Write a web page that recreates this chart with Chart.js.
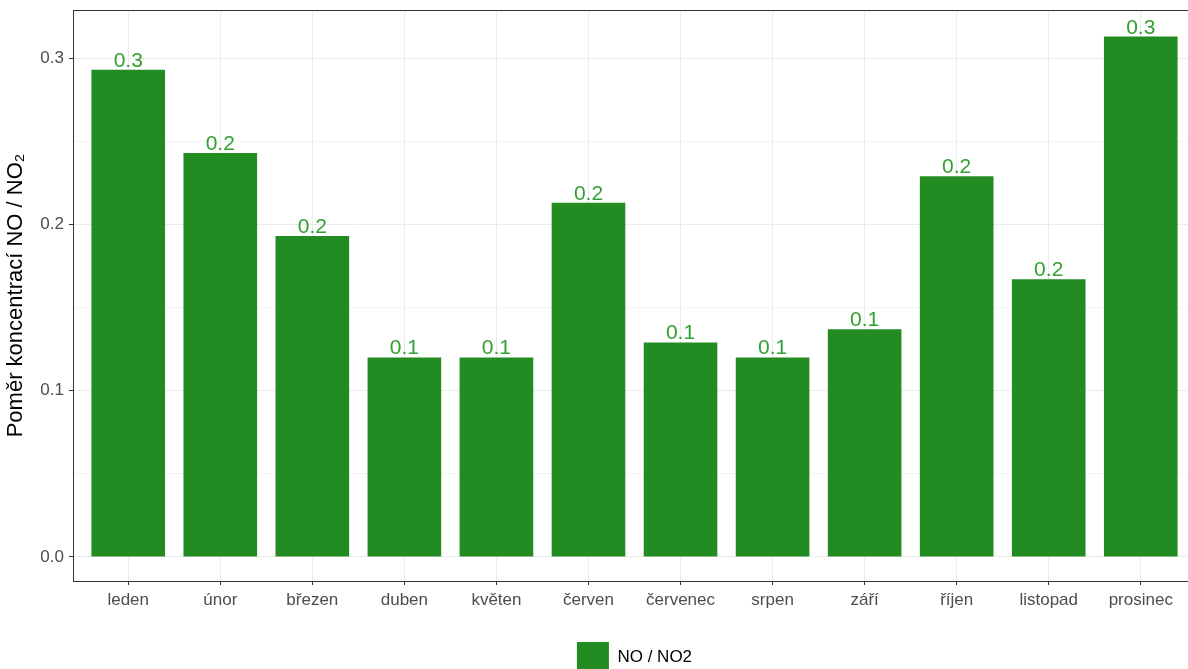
<!DOCTYPE html>
<html>
<head>
<meta charset="utf-8">
<script src="https://cdn.jsdelivr.net/npm/chart.js@4.4.1/dist/chart.umd.min.js"></script>
<style>
  html, body { margin: 0; padding: 0; background: #fff; overflow: hidden; }
  #wrap { width: 1200px; height: 683px; }
</style>
</head>
<body>
<div id="wrap"><canvas id="graf" width="1200" height="683"></canvas></div>
<script>
// mesice a pomer NO / NO2
const mesice = ['leden', 'únor', 'březen', 'duben', 'květen', 'červen',
    'červenec', 'srpen', 'září', 'říjen', 'listopad', 'prosinec'];
const pomer = [0.293, 0.243, 0.193, 0.120, 0.120, 0.213,
    0.129, 0.120, 0.137, 0.229, 0.167, 0.313];
const yTicks = [0, 0.05, 0.1, 0.15, 0.2, 0.25, 0.3];

const zelena = '#228B22';
const mrizka = '#EBEBEB';
const osa = '#333333';
const pismo = '"Liberation Sans", Arial, sans-serif';

// popisky nad sloupci
const popisky = {
    id: 'popisky',
    afterDatasetsDraw(chart) {
        const ctx = chart.ctx;
        const meta = chart.getDatasetMeta(0);
        ctx.save();
        ctx.font = '21px ' + pismo;
        ctx.fillStyle = '#33a033';
        ctx.textAlign = 'center';
        ctx.textBaseline = 'alphabetic';
        meta.data.forEach((bar, i) => {
            ctx.fillText(pomer[i].toFixed(1), bar.x, bar.y - 3);
        });
        ctx.restore();
    }
};

// ramecek panelu
const ramecek = {
    id: 'ramecek',
    afterDraw(chart) {
        const a = chart.chartArea;
        const ctx = chart.ctx;
        ctx.save();
        ctx.strokeStyle = osa;
        ctx.lineWidth = 1;
        ctx.strokeRect(a.left + 0.5, a.top + 0.5, a.right - a.left, a.bottom - a.top);
        ctx.restore();
    }
};

const isMajor = (v) => Math.abs(Math.round(v * 10) - v * 10) < 1e-6;

new Chart(document.getElementById('graf'), {
    type: 'bar',
    data: {
        datasets: [{
            label: 'NO / NO2',
            data: pomer.map((v, i) => ({ x: i + 1, y: v })),
            backgroundColor: zelena,
            borderWidth: 0,
            barPercentage: 0.8,
            categoryPercentage: 1.0
        }]
    },
    options: {
        responsive: false,
        animation: false,
        layout: { padding: { left: 0, top: 10, right: 4, bottom: 0 } },
        scales: {
            x: {
                type: 'linear',
                offset: false,
                min: 0.4,
                max: 12.6,
                afterBuildTicks(scale) {
                    scale.ticks = mesice.map((m, i) => ({ value: i + 1 }));
                },
                afterFit(scale) { scale.height = 51; },
                grid: { offset: false, color: mrizka, lineWidth: 1, tickLength: 4, tickColor: osa },
                border: { color: osa, width: 1 },
                ticks: {
                    autoSkip: false,
                    maxRotation: 0,
                    padding: 5,
                    color: '#4D4D4D',
                    font: { family: pismo, size: 17 },
                    callback: (v) => mesice[Math.round(v) - 1]
                }
            },
            y: {
                min: -0.0145,
                max: 0.329,
                afterBuildTicks(scale) {
                    scale.ticks = yTicks.map(v => ({ value: v }));
                },
                afterFit(scale) {
                    scale.width = 73;
                    scale.paddingTop = 0;
                    scale.paddingBottom = 0;
                },
                grid: {
                    color: mrizka,
                    lineWidth: (c) => isMajor(c.tick.value) ? 1 : 0.6,
                    tickLength: 4,
                    tickColor: (c) => isMajor(c.tick.value) ? osa : 'rgba(0,0,0,0)'
                },
                border: { color: osa, width: 1 },
                ticks: {
                    padding: 5,
                    color: '#4D4D4D',
                    font: { family: pismo, size: 17 },
                    callback: (v) => isMajor(v) ? v.toFixed(1) : ''
                },
                title: {
                    display: true,
                    text: 'Poměr koncentrací NO / NO₂',
                    color: '#000',
                    padding: { top: 3, bottom: 0 },
                    font: { family: pismo, size: 22 }
                }
            }
        },
        plugins: {
            legend: {
                position: 'bottom',
                fullSize: false,
                labels: {
                    boxWidth: 32,
                    boxHeight: 31,
                    padding: 10,
                    color: '#000',
                    font: { family: pismo, size: 17 }
                }
            },
            tooltip: { enabled: false }
        }
    },
    plugins: [popisky, ramecek]
});
</script>
</body>
</html>
